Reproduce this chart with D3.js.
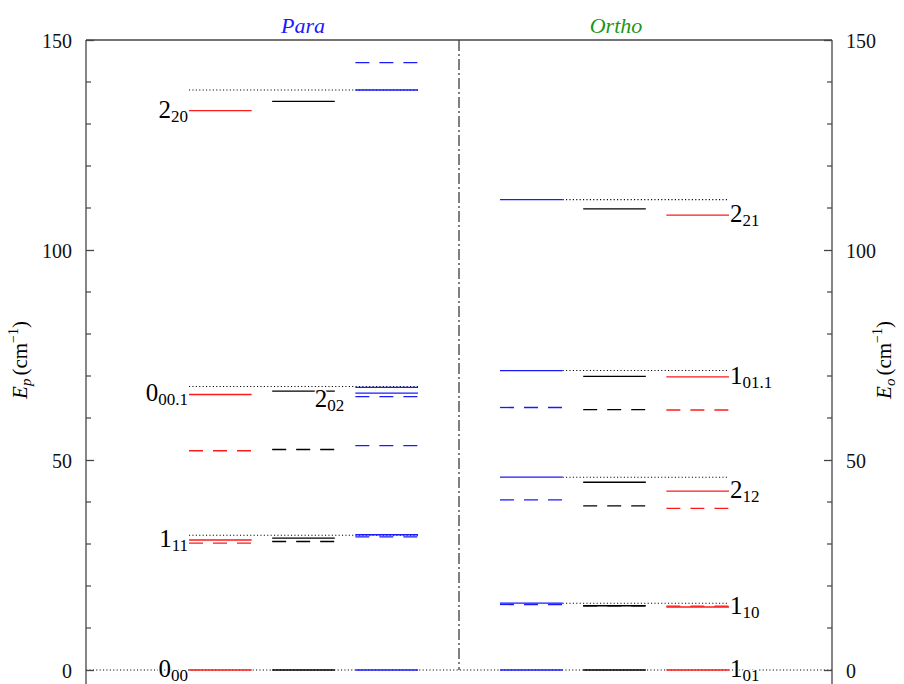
<!DOCTYPE html>
<html><head><meta charset="utf-8">
<script src="https://cdn.jsdelivr.net/npm/d3@7"></script>
<style>body{margin:0;background:#fff}svg{display:block}svg text{font-family:"Liberation Serif","Times New Roman","DejaVu Serif",serif}</style>
</head><body><svg id="c" width="904" height="684"></svg>
<script>
// ---- data ----
const paraColumns = ["red", "black", "blue"];
const orthoColumns = ["blue", "black", "red"];

const paraRedSolid = [0, 30.95, 65.6, 133.2];
const paraRedDashed = [30.2, 52.2];
const paraBlackSolid = [0, 31.4, 66.4, 135.4];
const paraBlackDashed = [30.6, 52.5];
const paraBlueSolid = [0, 32.2, 65.9, 67.3, 138.1];
const paraBlueDashed = [31.7, 53.4, 65.1, 144.6];
const paraReference = [32.1, 67.5, 138.1];

const orthoBlueSolid = [0, 15.9, 45.9, 71.3, 112.0];
const orthoBlueDashed = [15.6, 40.5, 62.5];
const orthoBlackSolid = [0, 15.3, 44.7, 69.9, 109.8];
const orthoBlackDashed = [15.3, 39.1, 62.0];
const orthoRedSolid = [0, 15.0, 42.6, 69.8, 108.3];
const orthoRedDashed = [15.2, 38.5, 61.9];
const orthoReference = [15.9, 45.9, 71.3, 112.0];

const paraLabelMain = ["0", "1", "0", "2"];
const paraLabelSub = ["00", "11", "00.1", "20"];
const paraLabelValue = [0, 30.95, 65.6, 133.2];
const para202Value = 66.4;

const orthoLabelMain = ["1", "1", "2", "1", "2"];
const orthoLabelSub = ["01", "10", "12", "01.1", "21"];
const orthoLabelValue = [0, 15.0, 42.6, 69.8, 108.3];

const yTickValues = [0, 50, 100, 150];
const yMinorValues = [10, 20, 30, 40, 60, 70, 80, 90, 110, 120, 130, 140];

const colorMap = {red: "#ff1a1a", black: "#000000", blue: "#1a1aff"};

// ---- layout ----
const svg = d3.select("#c");
const L = 86, R = 832, T = 40;
const y = d3.scaleLinear().domain([-5, 150]).range([691, 40]);
const xPara = d3.scaleBand().domain(paraColumns).range([189, 418]).paddingInner(0.247).paddingOuter(0);
const xOrtho = d3.scaleBand().domain(orthoColumns).range([500, 729]).paddingInner(0.247).paddingOuter(0);
const bw = xPara.bandwidth();

function rows(side, col, vals, dashed) { return vals.map(v => ({side, col, v, dashed})); }
const levels = [].concat(
  rows("p", "red", paraRedSolid, false), rows("p", "red", paraRedDashed, true),
  rows("p", "black", paraBlackSolid, false), rows("p", "black", paraBlackDashed, true),
  rows("p", "blue", paraBlueSolid, false), rows("p", "blue", paraBlueDashed, true),
  rows("o", "blue", orthoBlueSolid, false), rows("o", "blue", orthoBlueDashed, true),
  rows("o", "black", orthoBlackSolid, false), rows("o", "black", orthoBlackDashed, true),
  rows("o", "red", orthoRedSolid, false), rows("o", "red", orthoRedDashed, true)
);

// reference dotted lines
const dots = "1.1,2.3";
svg.append("line").attr("x1", L).attr("x2", R).attr("y1", y(0)).attr("y2", y(0))
  .attr("stroke", "#000").attr("stroke-width", 1.1).attr("stroke-dasharray", dots);
svg.selectAll(".pref").data(paraReference).join("line")
  .attr("x1", xPara("red")).attr("x2", xPara("blue") + bw)
  .attr("y1", d => y(d)).attr("y2", d => y(d))
  .attr("stroke", "#000").attr("stroke-width", 1.1).attr("stroke-dasharray", dots);
svg.selectAll(".oref").data(orthoReference).join("line")
  .attr("x1", xOrtho("blue") + bw).attr("x2", xOrtho("red") + bw)
  .attr("y1", d => y(d)).attr("y2", d => y(d))
  .attr("stroke", "#000").attr("stroke-width", 1.1).attr("stroke-dasharray", dots);

// divider
svg.append("line").attr("x1", 459).attr("x2", 459).attr("y1", T).attr("y2", y(0))
  .attr("stroke", "#555").attr("stroke-width", 1.5).attr("stroke-dasharray", "11,3,2,3");

// levels
svg.selectAll(".lvl").data(levels).join("line")
  .attr("x1", d => (d.side === "p" ? xPara : xOrtho)(d.col))
  .attr("x2", d => (d.side === "p" ? xPara : xOrtho)(d.col) + bw)
  .attr("y1", d => y(d.v)).attr("y2", d => y(d.v))
  .attr("stroke", d => colorMap[d.col]).attr("stroke-width", 1.3)
  .attr("stroke-dasharray", d => d.dashed ? "14,10" : null);

// labels
function label(x, yy, main, sub, anchor) {
  const t = svg.append("text").attr("x", x).attr("y", yy).attr("text-anchor", anchor)
    .attr("font-size", 25).attr("fill", "#000")
    .attr("stroke", "#fff").attr("stroke-width", 3).attr("paint-order", "stroke");
  t.append("tspan").text(main);
  t.append("tspan").attr("font-size", 17).attr("dy", 4).text(sub);
}
paraLabelValue.forEach((v, i) => label(xPara("red") - 1, y(v) + 7, paraLabelMain[i], paraLabelSub[i], "end"));
label(xPara("black") + bw - 20, y(para202Value) + 16, "2", "02", "start");
orthoLabelValue.forEach((v, i) => label(xOrtho("red") + bw + 1, y(v) + 7, orthoLabelMain[i], orthoLabelSub[i], "start"));

// axes
const axisColor = "#444";
svg.append("line").attr("x1", L).attr("x2", R).attr("y1", T).attr("y2", T).attr("stroke", axisColor).attr("stroke-width", 1.3);
[L, R].forEach(x => svg.append("line").attr("x1", x).attr("x2", x).attr("y1", T).attr("y2", 684).attr("stroke", axisColor).attr("stroke-width", 1.3));
const leftAxis = d3.axisLeft(y).tickValues(yTickValues).tickSizeInner(-8).tickSizeOuter(0).tickPadding(14);
const gl = svg.append("g").attr("transform", `translate(${L},0)`).call(leftAxis);
const rightAxis = d3.axisRight(y).tickValues(yTickValues).tickSizeInner(-8).tickSizeOuter(0).tickPadding(14);
const gr = svg.append("g").attr("transform", `translate(${R},0)`).call(rightAxis);
[gl, gr].forEach(g => {
  g.attr("font-family", null);
  g.select(".domain").remove();
  g.selectAll("line").attr("stroke", axisColor).attr("stroke-width", 1.3);
  g.selectAll("text").attr("font-size", 20).attr("fill", "#111").attr("dy", "0.35em");
});
svg.selectAll(".mnl").data(yMinorValues).join("line")
  .attr("x1", L).attr("x2", L + 5).attr("y1", d => y(d)).attr("y2", d => y(d))
  .attr("stroke", axisColor).attr("stroke-width", 1.2);
svg.selectAll(".mnr").data(yMinorValues).join("line")
  .attr("x1", R - 5).attr("x2", R).attr("y1", d => y(d)).attr("y2", d => y(d))
  .attr("stroke", axisColor).attr("stroke-width", 1.2);

// axis titles
function axisTitle(x, sub) {
  const t = svg.append("text").attr("transform", `translate(${x},360) rotate(-90)`)
    .attr("text-anchor", "middle").attr("font-size", 21).attr("fill", "#000");
  t.append("tspan").attr("font-style", "italic").text("E");
  t.append("tspan").attr("font-style", "italic").attr("font-size", 15).attr("dy", 4).text(sub);
  t.append("tspan").attr("dy", -4).attr("dx", 3).text("(cm");
  t.append("tspan").attr("font-size", 14).attr("dy", -9).text("−1");
  t.append("tspan").attr("dy", 9).text(")");
}
axisTitle(27, "p");
axisTitle(891, "o");

// titles
svg.append("text").attr("x", 303).attr("y", 33).attr("text-anchor", "middle")
  .attr("font-style", "italic").attr("font-size", 22).attr("fill", "#1a1aff").text("Para");
svg.append("text").attr("x", 616).attr("y", 33).attr("text-anchor", "middle")
  .attr("font-style", "italic").attr("font-size", 22).attr("fill", "#1a961a").text("Ortho");
</script></body></html>
